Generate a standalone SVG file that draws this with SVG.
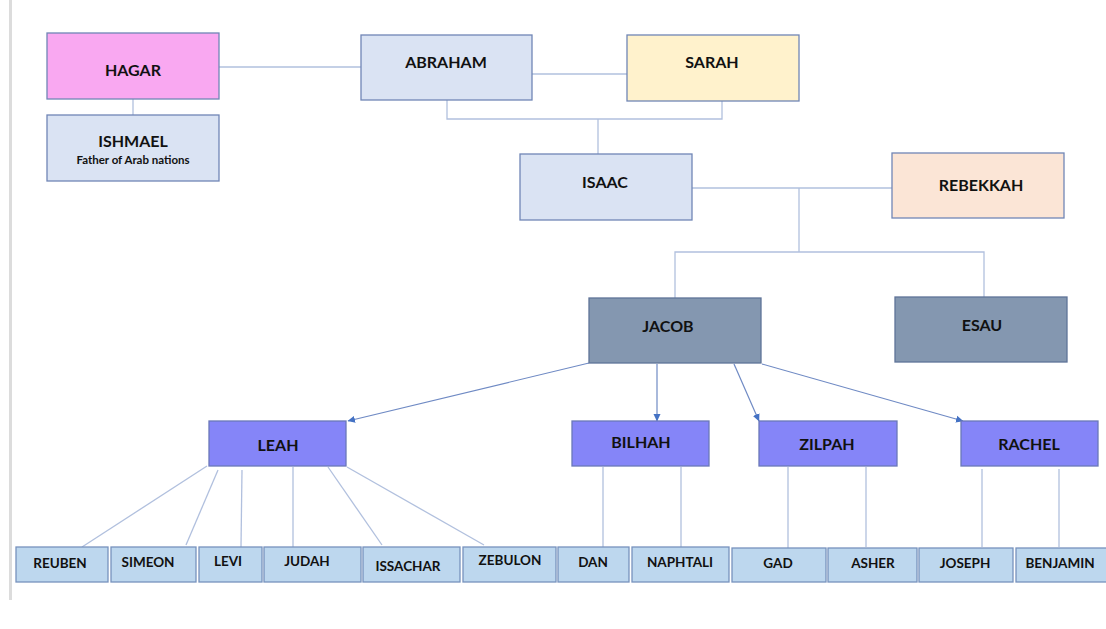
<svg xmlns="http://www.w3.org/2000/svg" width="1106" height="629" viewBox="0 0 1106 629">
<defs>
<style>
text{font-family:Lato,"Open Sans","Liberation Sans",sans-serif;font-weight:bold;fill:#111111;text-anchor:middle}
.t1{font-size:16px}
.t2{font-size:16px}
.t3{font-size:13.5px}
.sub{font-size:11.5px}
.n rect{stroke:#7086b6;stroke-width:1.3}
.lb{fill:#dae3f3}
.pk{fill:#f9a8f1}
.yl{fill:#fff2cc}
.pc{fill:#fbe5d6}
.n .sl{fill:#8497b0;stroke:#5f7398}
.n .pv{fill:#8585f8;stroke:#6a78b8}
.n .bt{fill:#bdd7ee;stroke:#7792bd}
.c path{fill:none;stroke:#b1c0de;stroke-width:1.3}
.c .a{stroke:#6f8ac4;stroke-width:1.2;marker-end:url(#ah)}
</style>
<marker id="ah" markerWidth="8" markerHeight="8" refX="7" refY="4" orient="auto" markerUnits="userSpaceOnUse">
<path d="M0,0.5 L7.5,4 L0,7.5 Z" fill="#4472c4"/>
</marker>
</defs>
<rect x="0" y="0" width="1106" height="629" style="fill:#ffffff;stroke:none"/>
<rect x="9" y="0" width="3" height="600" style="fill:#dcdcdc;stroke:none"/>

<g class="c" id="connectors">
<path d="M219,67 H361"/>
<path d="M133,99 V115"/>
<path d="M532,74 H627"/>
<path d="M447,100 V119 H722 V101"/>
<path d="M598,119 V154"/>
<path d="M692,188 H892"/>
<path d="M799,188 V252"/>
<path d="M675,298 V252 H984 V297"/>
<path class="a" d="M589,363 L348,421"/>
<path class="a" d="M657,364 V421"/>
<path class="a" d="M734,364 L759,421"/>
<path class="a" d="M762,364 L963,421"/>
<path d="M207,466 L82,547"/>
<path d="M218,470 L186,545"/>
<path d="M242,470 L241,547"/>
<path d="M293,467 V547"/>
<path d="M328,467 L382,545"/>
<path d="M347,467 L484,545"/>
<path d="M603,467 V547"/>
<path d="M681,467 V547"/>
<path d="M788,467 V548"/>
<path d="M866,467 V547"/>
<path d="M982,469 V547"/>
<path d="M1059,469 V547"/>
</g>

<g class="n" id="hagar"><rect class="pk" x="47" y="33" width="172" height="66"/><text class="t1" x="133" y="76">HAGAR</text></g>
<g class="n" id="ishmael"><rect class="lb" x="47" y="115" width="172" height="66"/><text class="t1" x="133" y="147">ISHMAEL</text><text class="sub" x="133" y="164">Father of Arab nations</text></g>
<g class="n" id="abraham"><rect class="lb" x="361" y="35" width="171" height="65"/><text class="t1" x="446" y="68">ABRAHAM</text></g>
<g class="n" id="sarah"><rect class="yl" x="627" y="35" width="172" height="66"/><text class="t1" x="712" y="68">SARAH</text></g>
<g class="n" id="isaac"><rect class="lb" x="520" y="154" width="172" height="66"/><text class="t1" x="605" y="188">ISAAC</text></g>
<g class="n" id="rebekkah"><rect class="pc" x="892" y="153" width="172" height="65"/><text class="t1" x="981" y="191">REBEKKAH</text></g>
<g class="n" id="jacob"><rect class="sl" x="589" y="298" width="172" height="65"/><text class="t1" x="668" y="332">JACOB</text></g>
<g class="n" id="esau"><rect class="sl" x="895" y="297" width="172" height="65"/><text class="t1" x="982" y="331">ESAU</text></g>

<g class="n" id="leah"><rect class="pv" x="209" y="421" width="137" height="45"/><text class="t2" x="278" y="451">LEAH</text></g>
<g class="n" id="bilhah"><rect class="pv" x="572" y="421" width="137" height="45"/><text class="t2" x="641" y="448">BILHAH</text></g>
<g class="n" id="zilpah"><rect class="pv" x="759" y="421" width="138" height="45"/><text class="t2" x="827" y="450">ZILPAH</text></g>
<g class="n" id="rachel"><rect class="pv" x="961" y="421" width="137" height="45"/><text class="t2" x="1029" y="450">RACHEL</text></g>

<g class="n" id="reuben"><rect class="bt" x="16" y="547" width="92" height="35"/><text class="t3" x="60" y="568">REUBEN</text></g>
<g class="n" id="simeon"><rect class="bt" x="111" y="547" width="85" height="35"/><text class="t3" x="148" y="567">SIMEON</text></g>
<g class="n" id="levi"><rect class="bt" x="199" y="547" width="63" height="35"/><text class="t3" x="228" y="566">LEVI</text></g>
<g class="n" id="judah"><rect class="bt" x="264" y="547" width="97" height="35"/><text class="t3" x="307" y="566">JUDAH</text></g>
<g class="n" id="issachar"><rect class="bt" x="363" y="547" width="97" height="35"/><text class="t3" x="408" y="571">ISSACHAR</text></g>
<g class="n" id="zebulon"><rect class="bt" x="463" y="547" width="93" height="35"/><text class="t3" x="510" y="565">ZEBULON</text></g>
<g class="n" id="dan"><rect class="bt" x="558" y="547" width="71" height="35"/><text class="t3" x="593" y="567">DAN</text></g>
<g class="n" id="naphtali"><rect class="bt" x="632" y="547" width="97" height="35"/><text class="t3" x="680" y="567">NAPHTALI</text></g>
<g class="n" id="gad"><rect class="bt" x="732" y="548" width="94" height="34"/><text class="t3" x="778" y="568">GAD</text></g>
<g class="n" id="asher"><rect class="bt" x="828" y="548" width="89" height="34"/><text class="t3" x="873" y="568">ASHER</text></g>
<g class="n" id="joseph"><rect class="bt" x="919" y="548" width="94" height="34"/><text class="t3" x="965" y="568">JOSEPH</text></g>
<g class="n" id="benjamin"><rect class="bt" x="1016" y="548" width="92" height="34"/><text class="t3" x="1060" y="568">BENJAMIN</text></g>
</svg>
